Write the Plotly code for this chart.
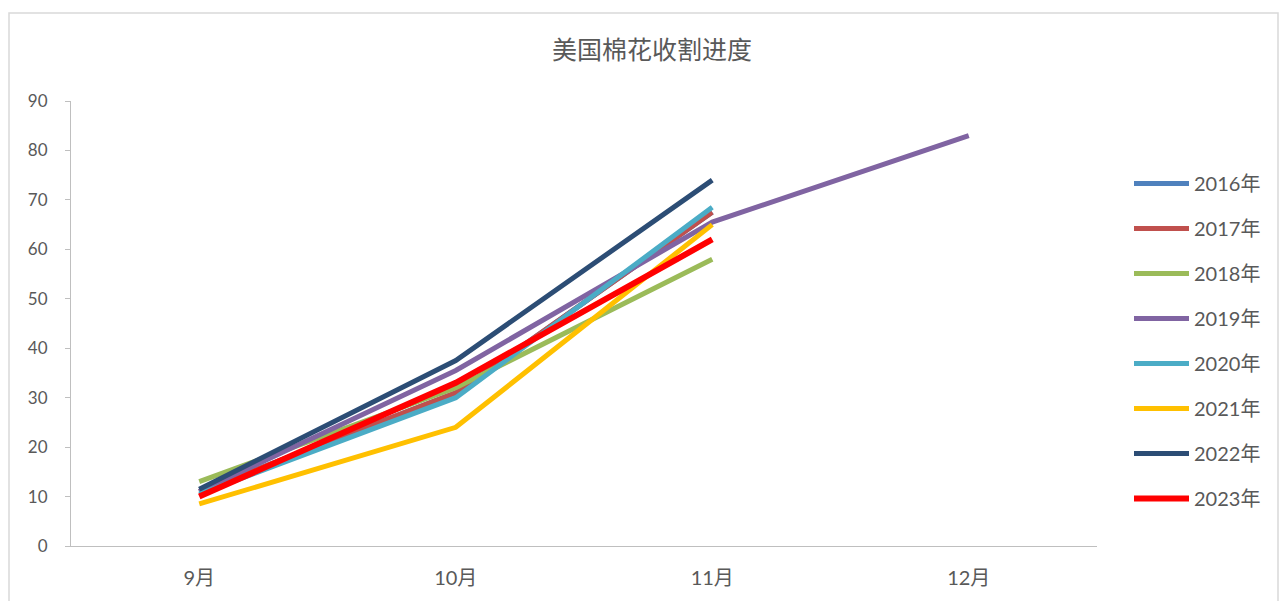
import plotly.graph_objects as go

months = ["9月", "10月", "11月", "12月"]
series_names = ["2016年", "2017年", "2018年", "2019年", "2020年", "2021年", "2022年", "2023年"]
v2016 = [11, 31, 67.5, None]
v2017 = [11, 31, 67.5, None]
v2018 = [13, 32, 58, None]
v2019 = [11, 35.5, 65.5, 83]
v2020 = [10.5, 30, 68.5, None]
v2021 = [8.5, 24, 65, None]
v2022 = [11.5, 37.5, 74, None]
v2023 = [10, 33, 62, None]
values = [v2016, v2017, v2018, v2019, v2020, v2021, v2022, v2023]
colors = ["#4F81BD", "#C0504D", "#9BBB59", "#8064A2", "#4BACC6", "#FFC000", "#2C4D75", "#FF0000"]
widths = [5, 5, 5, 5, 5, 5, 5, 6]
yticks = [0, 10, 20, 30, 40, 50, 60, 70, 80, 90]

FONT = "Lato, 'Noto Sans CJK SC', sans-serif"
CJK = "'Noto Sans CJK SC', sans-serif"
fig = go.Figure()
for name, vals, c, w in zip(series_names, values, colors, widths):
    fig.add_trace(go.Scatter(x=months, y=vals, name=name, mode="lines",
                             legendgroup=name,
                             line=dict(color=c, width=w), connectgaps=False))

W, H = 1279, 601
l, r, t, b = 71, W - 1097, 101, H - 546
pw, ph = W - l - r, H - t - b

fig.update_layout(
    width=W, height=H,
    margin=dict(l=l, r=r, t=t, b=b),
    paper_bgcolor="white", plot_bgcolor="white",
    font=dict(family=FONT, color="#595959", size=16),
    title=dict(text="美国棉花收割进度", x=652 / W, xref="container", xanchor="center",
               y=1 - 50 / H, yanchor="middle",
               font=dict(size=25, color="#595959", family=CJK)),
    xaxis=dict(type="category", range=[-0.5, 3.5], showline=True, linecolor="#BFBFBF",
               linewidth=1.2, showgrid=False, ticks="",
               tickfont=dict(size=20, color="#595959", family=FONT),
               ticklabelstandoff=14),
    yaxis=dict(range=[0, 90], tickvals=yticks, showline=True, linecolor="#BFBFBF",
               linewidth=1.2, showgrid=False, zeroline=False, ticks="outside",
               tickcolor="#BFBFBF", ticklen=5, tickfont=dict(size=17, color="#595959"),
               ticklabelstandoff=14),
    legend=dict(x=(1129 - l) / pw, xanchor="left", y=(546 - 164) / ph, yanchor="top",
                traceorder="grouped", tracegroupgap=16, borderwidth=0,
                font=dict(size=20, color="#595959"), itemwidth=55,
                bgcolor="rgba(0,0,0,0)"),
    shapes=[dict(type="rect", xref="paper", yref="paper",
                 x0=(9 - l) / pw, x1=(1278 - l) / pw,
                 y0=(546 - 620) / ph, y1=(546 - 13) / ph,
                 line=dict(color="#D9D9D9", width=1.5), fillcolor="rgba(0,0,0,0)", layer="below")],
)

fig.write_html("out.html")
